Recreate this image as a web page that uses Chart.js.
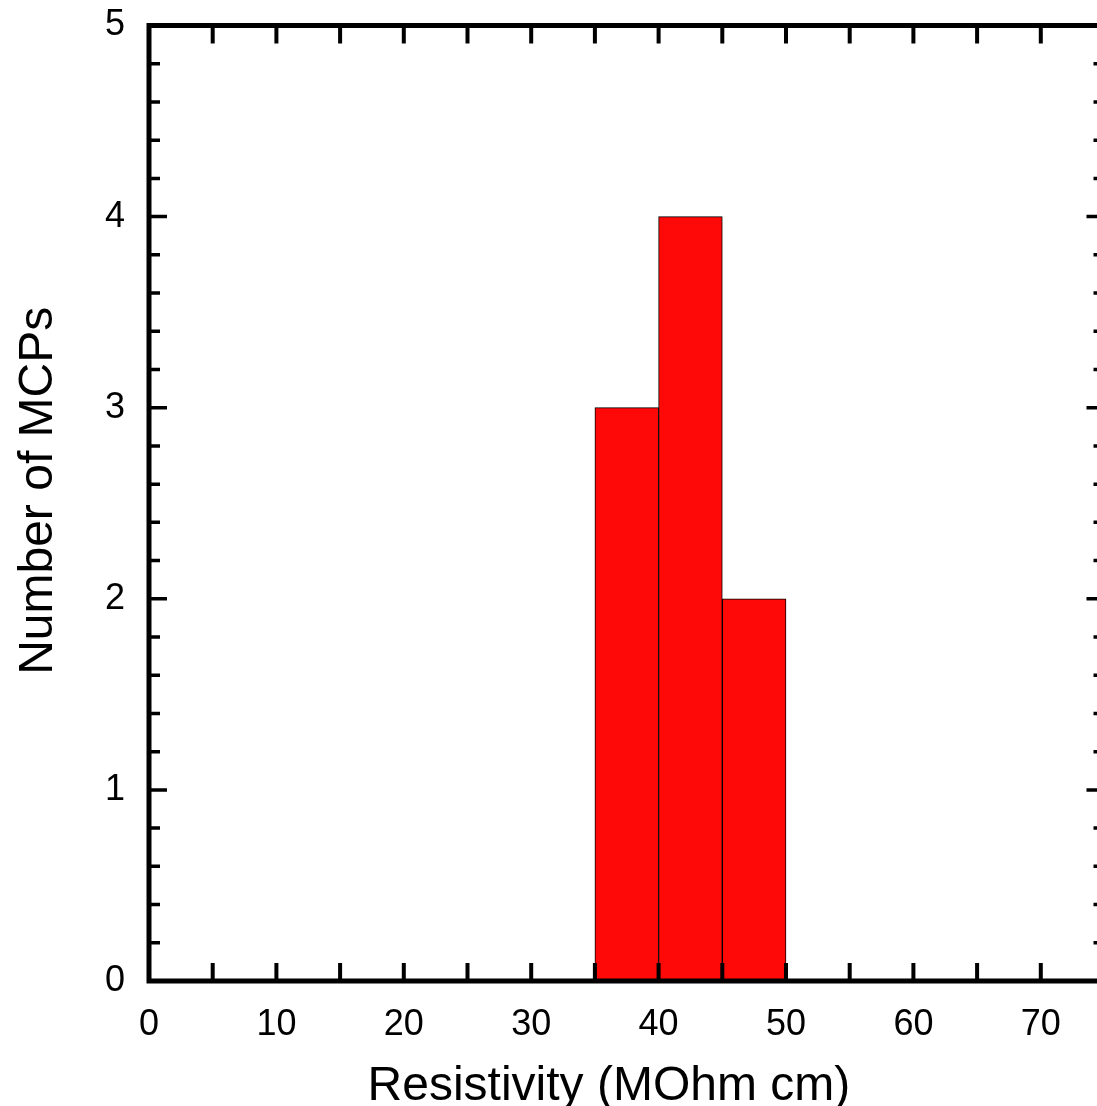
<!DOCTYPE html>
<html>
<head>
<meta charset="utf-8">
<script src="https://cdn.jsdelivr.net/npm/chart.js@4"></script>
<style>
  html, body { margin: 0; padding: 0; background: #fff; overflow: hidden; }
  #chart { display: block; }
</style>
</head>
<body>
<canvas id="chart" width="1115" height="1106"></canvas>
<script>
// Histogram data (bin centres, width 5)
const binCenters = [37.5, 42.5, 47.5];
const counts = [3, 4, 2];

// Axis ticks
const xTickLabels = [0, 10, 20, 30, 40, 50, 60, 70];
const yTickLabels = [0, 1, 2, 3, 4, 5];
const xTickStep = 5;
const yMinorStep = 0.2;

const xTitle = 'Resistivity (MOhm cm)';
const yTitle = 'Number of MCPs';
const FONT = "'Liberation Sans', Arial, sans-serif";

// draws the frame, inward tick marks on all four sides and the axis titles
const frameTicks = {
    id: 'frameTicks',
    afterDatasetsDraw(chart) {
        const ctx = chart.ctx;
        const a = chart.chartArea;
        const xs = chart.scales.x;
        const ys = chart.scales.y;
        ctx.save();
        ctx.strokeStyle = '#000';
        ctx.lineCap = 'butt';

        // x ticks (every 5), bottom and top
        ctx.lineWidth = 4;
        for (let v = xs.min + xTickStep; v < xs.max; v += xTickStep) {
            const px = xs.getPixelForValue(v);
            ctx.beginPath();
            ctx.moveTo(px, a.bottom);
            ctx.lineTo(px, a.bottom - 18);
            ctx.moveTo(px, a.top);
            ctx.lineTo(px, a.top + 18);
            ctx.stroke();
        }

        // y ticks: major at integers, minor every 0.2
        ctx.lineWidth = 3.5;
        const n = Math.round((ys.max - ys.min) / yMinorStep);
        for (let i = 1; i < n; i++) {
            const v = ys.min + i * yMinorStep;
            const major = i % 5 === 0;
            const len = major ? 18 : 11;
            const py = ys.getPixelForValue(v);
            ctx.beginPath();
            ctx.moveTo(a.left, py);
            ctx.lineTo(a.left + len, py);
            ctx.moveTo(a.right, py);
            ctx.lineTo(a.right - len, py);
            ctx.stroke();
        }

        // frame
        ctx.lineWidth = 5;
        ctx.beginPath();
        ctx.moveTo(a.left, a.top);
        ctx.lineTo(a.right, a.top);
        ctx.lineTo(a.right, a.bottom);
        ctx.lineTo(a.left, a.bottom);
        ctx.closePath();
        ctx.stroke();

        // axis titles (both sit a bit off the plot centre in the original)
        ctx.fillStyle = '#000';
        ctx.font = '48px ' + FONT;
        ctx.textAlign = 'center';
        ctx.textBaseline = 'alphabetic';
        ctx.fillText(xTitle, xs.getPixelForValue(36.1), a.bottom + 119);

        ctx.translate(52, ys.getPixelForValue(2.565));
        ctx.rotate(-Math.PI / 2);
        ctx.fillText(yTitle, 0, 0);
        ctx.restore();
    }
};

const ctx = document.getElementById('chart').getContext('2d');
new Chart(ctx, {
    type: 'bar',
    data: {
        datasets: [{
            data: binCenters.map((x, i) => ({ x: x, y: counts[i] })),
            backgroundColor: 'rgb(255, 8, 8)',
            borderColor: '#000',
            borderWidth: 1,
            borderSkipped: false,
            barPercentage: 1,
            categoryPercentage: 1
        }]
    },
    options: {
        responsive: false,
        devicePixelRatio: 1,
        animation: false,
        layout: { padding: { left: 0, top: 25.5, right: 10.5, bottom: 0 } },
        plugins: {
            legend: { display: false },
            tooltip: { enabled: false }
        },
        scales: {
            x: {
                type: 'linear',
                min: 0,
                max: 75,
                offset: false,
                grid: { display: false, drawTicks: false, offset: false },
                border: { display: false },
                afterBuildTicks: s => { s.ticks = xTickLabels.map(v => ({ value: v })); },
                afterFit: s => { s.height = 125; },
                ticks: {
                    padding: 22,
                    maxRotation: 0,
                    color: '#000',
                    font: { family: FONT, size: 36 }
                }
            },
            y: {
                min: 0,
                max: 5,
                grid: { display: false, drawTicks: false },
                border: { display: false },
                afterBuildTicks: s => { s.ticks = yTickLabels.map(v => ({ value: v })); },
                afterFit: s => {
                    s.width = 149;
                    s.paddingTop = 0;
                    s.paddingBottom = 0;
                },
                ticks: {
                    padding: 24,
                    color: '#000',
                    font: { family: FONT, size: 36 }
                }
            }
        }
    },
    plugins: [frameTicks]
});
</script>
</body>
</html>
